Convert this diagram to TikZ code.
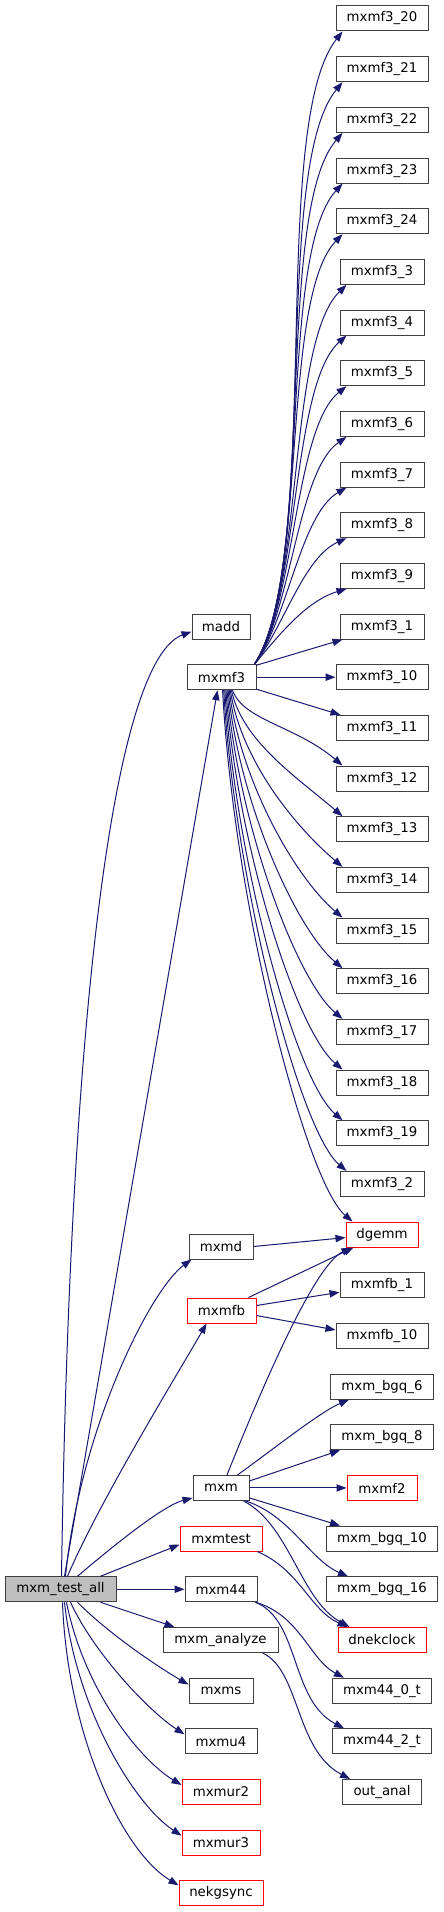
\documentclass[tikz,border=0pt]{standalone}
\usepackage{fontspec}
\setmainfont{DejaVu Sans}
\usetikzlibrary{arrows.meta,calc}
\definecolor{edgecol}{RGB}{25,25,112}
\definecolor{boxgray}{RGB}{64,64,64}
\definecolor{rootfill}{RGB}{191,191,191}
\definecolor{boxred}{RGB}{255,0,0}
\tikzset{
  box/.style={draw=boxgray, line width=0.75pt, rectangle, inner sep=0pt,
    minimum height=18.75pt, font=\fontsize{10}{12}\selectfont, fill=white},
  redbox/.style={box, draw=boxred},
  w/.style={minimum width={#1*0.75pt}},
  edge/.style={draw=edgecol, line width=0.75pt, -{Triangle[length=7.5pt,width=5.5pt]}, fill=none},
}
\newcommand\ry[1]{18.5+50.67*#1}
\begin{document}
\begin{tikzpicture}[x=0.75pt,y=-0.75pt]
\useasboundingbox (0,0) rectangle (443,1912);
% column 3
\node[box,w=92] (f20) at (382,{\ry{0}}) {mxmf3\_20};
\node[box,w=92] (f21) at (382,{\ry{1}}) {mxmf3\_21};
\node[box,w=92] (f22) at (382,{\ry{2}}) {mxmf3\_22};
\node[box,w=92] (f23) at (382,{\ry{3}}) {mxmf3\_23};
\node[box,w=92] (f24) at (382,{\ry{4}}) {mxmf3\_24};
\node[box,w=84] (f3) at (382,{\ry{5}}) {mxmf3\_3};
\node[box,w=84] (f4) at (382,{\ry{6}}) {mxmf3\_4};
\node[box,w=84] (f5) at (382,{\ry{7}}) {mxmf3\_5};
\node[box,w=84] (f6) at (382,{\ry{8}}) {mxmf3\_6};
\node[box,w=84] (f7) at (382,{\ry{9}}) {mxmf3\_7};
\node[box,w=84] (f8) at (382,{\ry{10}}) {mxmf3\_8};
\node[box,w=84] (f9) at (382,{\ry{11}}) {mxmf3\_9};
\node[box,w=84] (f1) at (382,{\ry{12}}) {mxmf3\_1};
\node[box,w=92] (f10) at (382,{\ry{13}}) {mxmf3\_10};
\node[box,w=92] (f11) at (382,{\ry{14}}) {mxmf3\_11};
\node[box,w=92] (f12) at (382,{\ry{15}}) {mxmf3\_12};
\node[box,w=92] (f13) at (382,{\ry{16}}) {mxmf3\_13};
\node[box,w=92] (f14) at (382,{\ry{17}}) {mxmf3\_14};
\node[box,w=92] (f15) at (382,{\ry{18}}) {mxmf3\_15};
\node[box,w=92] (f16) at (382,{\ry{19}}) {mxmf3\_16};
\node[box,w=92] (f17) at (382,{\ry{20}}) {mxmf3\_17};
\node[box,w=92] (f18) at (382,{\ry{21}}) {mxmf3\_18};
\node[box,w=92] (f19) at (382,{\ry{22}}) {mxmf3\_19};
\node[box,w=84] (f2) at (382,{\ry{23}}) {mxmf3\_2};
\node[redbox,w=72] (dgemm) at (382,{\ry{24}}) {dgemm};
\node[box,w=84] (fb1) at (382,{\ry{25}}) {mxmfb\_1};
\node[box,w=92] (fb10) at (382,{\ry{26}}) {mxmfb\_10};
\node[box,w=103] (bgq6) at (382,{\ry{27}}) {mxm\_bgq\_6};
\node[box,w=103] (bgq8) at (382,{\ry{28}}) {mxm\_bgq\_8};
\node[redbox,w=70] (mxmf2) at (382,{\ry{29}}) {mxmf2};
\node[box,w=111] (bgq10) at (382,{\ry{30}}) {mxm\_bgq\_10};
\node[box,w=111] (bgq16) at (382,{\ry{31}}) {mxm\_bgq\_16};
\node[redbox,w=88] (dnek) at (382,{\ry{32}}) {dnekclock};
\node[box,w=99] (m440) at (382,{\ry{33}}) {mxm44\_0\_t};
\node[box,w=99] (m442) at (382,{\ry{34}}) {mxm44\_2\_t};
\node[box,w=79] (outanal) at (382,{\ry{35}}) {out\_anal};
% column 2
\node[box,w=58] (madd) at (221,{\ry{12}}) {madd};
\node[box,w=69] (mxmf3) at (221.5,{\ry{13}}) {mxmf3};
\node[box,w=64] (mxmd) at (221,1246.5) {mxmd};
\node[redbox,w=69] (mxmfb) at (221.5,1310.5) {mxmfb};
\node[box,w=56] (mxm) at (221,{\ry{29}}) {mxm};
\node[redbox,w=82] (mxmtest) at (221,{\ry{30}}) {mxmtest};
\node[box,w=72] (mxm44) at (221,{\ry{31}}) {mxm44};
\node[box,w=115] (mxmanalyze) at (220.5,{\ry{32}}) {mxm\_analyze};
\node[box,w=64] (mxms) at (221,{\ry{33}}) {mxms};
\node[box,w=72] (mxmu4) at (221,{\ry{34}}) {mxmu4};
\node[redbox,w=78] (mxmur2) at (221,{\ry{35}}) {mxmur2};
\node[redbox,w=78] (mxmur3) at (221,{\ry{36}}) {mxmur3};
\node[redbox,w=84] (nekgsync) at (221,{\ry{37}}) {nekgsync};
% root
\node[box,w=111,fill=rootfill] (root) at (60.5,{\ry{31}}) {mxm\_test\_all};

% mxmf3 upward bundle
\foreach \n [count=\i from 0] in {f20,f21,f22,f23,f24,f3,f4,f5,f6,f7,f8,f9} {
  \pgfmathsetmacro\pa{70-45/11*\i}
  \pgfmathsetmacro\pb{110-80/11*\i}
  \pgfmathsetmacro\pc{75-35/11*\i}
  \pgfmathsetmacro\pd{95-83/11*\i}
  \draw[edge] ($(mxmf3.north east)+(-2,0)$) .. controls +(\pa,-\pb) and +(-\pc,\pd) .. ($(\n.south west)+(7,0)$);
}
\draw[edge] ($(mxmf3.north east)+(0,1)$) -- ($(f1.south west)+(3,0)$);
\draw[edge] (mxmf3.east) -- (f10.west);
\draw[edge] ($(mxmf3.south east)+(0,-1)$) -- ($(f11.north west)+(5,0)$);
% mxmf3 downward bundle
\foreach \n [count=\i from 0] in {f12,f13,f14,f15,f16,f17,f18,f19,f2,dgemm} {
  \pgfmathsetmacro\dy{18.5+50.67*(15+\i)-12.5-690}
  \pgfmathsetmacro\pb{0.4*\dy}
  \pgfmathsetmacro\sx{46-1.1*\i}
  \draw[edge] ($(mxmf3.south west)+(\sx,0)$) .. controls +(11,\pb) and +(-47,-40) .. ($(\n.north west)+(7,0)$);
}
% root edges
\draw[edge] ($(root.north)+(1,0)$) .. controls (70,1000) and (115,660) .. ($(madd.west)+(0,5)$);
\draw[edge] ($(root.north)+(4,0)$) -- ($(mxmf3.south)+(-4,0)$);
\draw[edge] ($(root.north)+(5,0)$) .. controls (80,1430) and (150,1290) .. ($(mxmd.south west)+(3,0)$);
\draw[edge] ($(root.north)+(7,0)$) .. controls (100,1500) and (180,1370) .. ($(mxmfb.south)+(-15,0)$);
\draw[edge] ($(root.north)+(17,0)$) .. controls (120,1540) and (165,1505) .. ($(mxm.south west)+(0,-3)$);
\draw[edge] ($(root.north east)+(-16,0)$) -- ($(mxmtest.west)+(0,6)$);
\draw[edge] (root.east) -- (mxm44.west);
\draw[edge] ($(root.south east)+(-16,0)$) -- ($(mxmanalyze.north west)+(12,0)$);
\draw[edge] ($(root.south)+(17,0)$) .. controls (110,1635) and (160,1668) .. ($(mxms.west)+(0,-6)$);
\draw[edge] ($(root.south)+(10,0)$) .. controls (95,1655) and (150,1712) .. ($(mxmu4.west)+(0,-7)$);
\draw[edge] ($(root.south)+(6,0)$) .. controls (84,1690) and (140,1760) .. ($(mxmur2.west)+(0,-7)$);
\draw[edge] ($(root.south)+(4,0)$) .. controls (76,1710) and (135,1805) .. ($(mxmur3.west)+(0,-7)$);
\draw[edge] ($(root.south)+(2,0)$) .. controls (67,1730) and (120,1850) .. ($(nekgsync.west)+(0,-8)$);
% other edges
\draw[edge] (mxmd.east) -- ($(dgemm.west)+(0,3)$);
\draw[edge] ($(mxmfb.north east)+(-8,0)$) -- ($(dgemm.south west)+(8,0)$);
\draw[edge] ($(mxmfb.east)+(0,-5)$) -- ($(fb1.west)+(0,7)$);
\draw[edge] ($(mxmfb.east)+(0,5)$) -- ($(fb10.west)+(0,-6)$);
\draw[edge] ($(mxm.north)+(6,0)$) .. controls (265,1380) and (315,1265) .. ($(dgemm.south west)+(6,0)$);
\draw[edge] ($(mxm.north east)+(-12,0)$) .. controls (275,1448) and (320,1412) .. ($(bgq6.south west)+(19,0)$);
\draw[edge] ($(mxm.east)+(0,-7)$) -- ($(bgq8.south west)+(10,0)$);
\draw[edge] (mxm.east) -- (mxmf2.west);
\draw[edge] ($(mxm.south east)+(0,-3)$) -- ($(bgq10.north west)+(14,0)$);
\draw[edge] ($(mxm.south east)+(-4,0)$) .. controls (290,1515) and (310,1560) .. ($(bgq16.north west)+(22,0)$);
\draw[edge] ($(mxm.south east)+(-6,0)$) .. controls (290,1525) and (300,1600) .. ($(dnek.north west)+(12,0)$);
\draw[edge] ($(mxmtest.south east)+(-5,0)$) .. controls (300,1570) and (310,1610) .. ($(dnek.north west)+(10,0)$);
\draw[edge] ($(mxm44.south east)+(-2,0)$) .. controls (300,1615) and (310,1660) .. ($(m440.north west)+(12,0)$);
\draw[edge] ($(mxm44.south east)+(-2,0)$) .. controls (300,1620) and (290,1700) .. ($(m442.north west)+(12,0)$);
\draw[edge] ($(mxmanalyze.south east)+(-16,0)$) .. controls (300,1670) and (295,1750) .. ($(outanal.north west)+(8,0)$);
\end{tikzpicture}
\end{document}
